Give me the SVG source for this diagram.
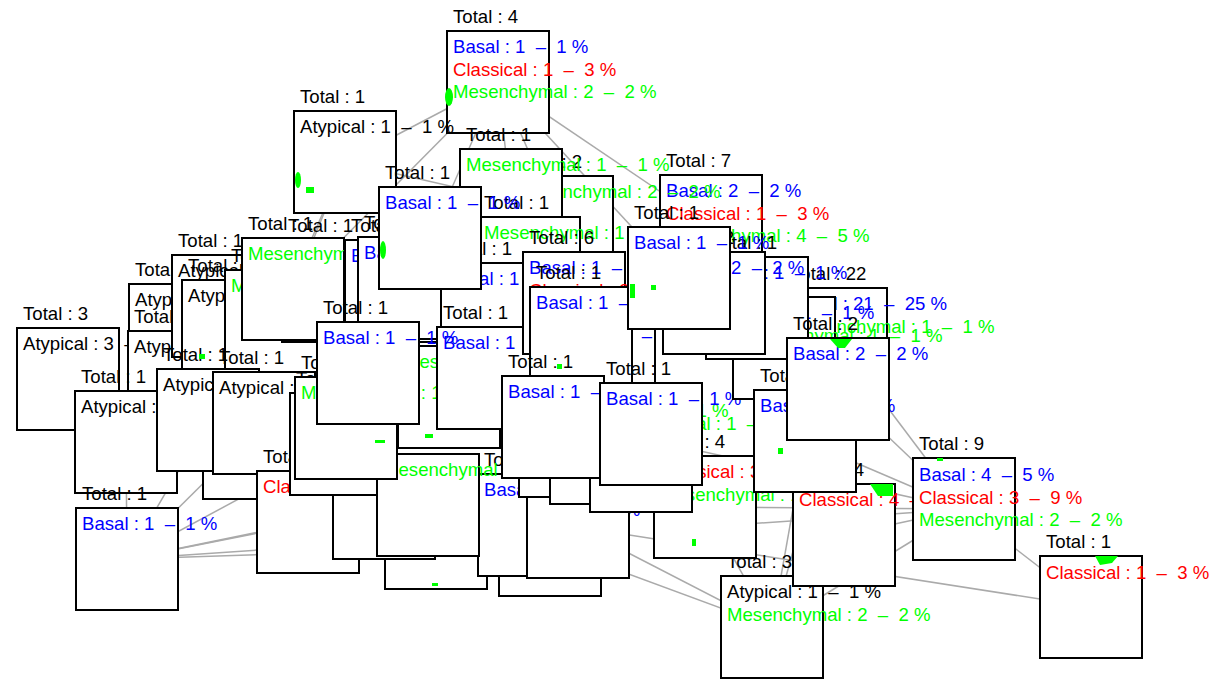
<svg xmlns="http://www.w3.org/2000/svg" width="1219" height="679" viewBox="0 0 1219 679">
<style>
text{font-family:"Liberation Sans",Arial,sans-serif;font-size:18.6px;white-space:pre}
.box{fill:#fff;stroke:#000;stroke-width:2}
.k{fill:#000}.b{fill:#0000FF}.r{fill:#FF0000}.g{fill:#00FF00}
.gs{fill:#00FF00}
#edges line{stroke:#aaaaaa;stroke-width:1.5}
</style>
<rect width="1219" height="679" fill="#fff"/>
<g id="edges">
<line x1="345" y1="162" x2="498" y2="82"/>
<line x1="498" y1="82" x2="511" y2="200"/>
<line x1="498" y1="82" x2="679" y2="278"/>
<line x1="498" y1="82" x2="430" y2="238"/>
<line x1="498" y1="82" x2="293" y2="289"/>
<line x1="498" y1="82" x2="711" y2="226"/>
<line x1="498" y1="82" x2="562" y2="227"/>
<line x1="345" y1="162" x2="511" y2="200"/>
<line x1="345" y1="162" x2="430" y2="238"/>
<line x1="345" y1="162" x2="276" y2="321"/>
<line x1="345" y1="162" x2="293" y2="289"/>
<line x1="964" y1="509" x2="838" y2="389"/>
<line x1="964" y1="509" x2="836" y2="339"/>
<line x1="964" y1="509" x2="844" y2="535"/>
<line x1="964" y1="509" x2="1091" y2="607"/>
<line x1="964" y1="509" x2="705" y2="507"/>
<line x1="964" y1="509" x2="805" y2="441"/>
<line x1="964" y1="509" x2="772" y2="627"/>
<line x1="964" y1="509" x2="650" y2="440"/>
<line x1="964" y1="509" x2="660" y2="530"/>
<line x1="1091" y1="607" x2="578" y2="527"/>
<line x1="772" y1="627" x2="578" y2="527"/>
<line x1="772" y1="627" x2="550" y2="545"/>
<line x1="772" y1="627" x2="705" y2="507"/>
<line x1="772" y1="627" x2="805" y2="441"/>
<line x1="772" y1="627" x2="838" y2="389"/>
<line x1="127" y1="559" x2="308" y2="522"/>
<line x1="127" y1="559" x2="264" y2="423"/>
<line x1="127" y1="559" x2="208" y2="420"/>
<line x1="127" y1="559" x2="126" y2="442"/>
<line x1="127" y1="559" x2="550" y2="545"/>
<line x1="127" y1="559" x2="436" y2="538"/>
<line x1="127" y1="559" x2="384" y2="508"/>
<line x1="127" y1="559" x2="341" y2="444"/>
</g>
<g id="n42" transform="translate(17,328)"><text class="k" x="6" y="-8">Total : 3</text><rect class="box" width="102" height="102"/><text class="k" x="6" y="22">Atypical : 3  –  4 %</text></g>
<g id="n43" transform="translate(129,284)"><text class="k" x="6" y="-8">Total : 1</text><rect class="box" width="102" height="102"/><text class="k" x="6" y="22">Atypical : 1  –  1 %</text></g>
<g id="n44" transform="translate(128,331)"><text class="k" x="6" y="-8">Total : 1</text><rect class="box" width="102" height="102"/><text class="k" x="6" y="22">Atypical : 1  –  1 %</text></g>
<g id="n45" transform="translate(172,255)"><text class="k" x="6" y="-8">Total : 1</text><rect class="box" width="102" height="102"/><text class="k" x="6" y="22">Atypical : 1  –  1 %</text></g>
<g id="n46" transform="translate(182,280)"><text class="k" x="6" y="-8">Total : 1</text><rect class="box" width="102" height="102"/><text class="k" x="6" y="22">Atypical : 1  –  1 %</text></g>
<g id="n47" transform="translate(225,270)"><text class="k" x="6" y="-8">Total : 1</text><rect class="box" width="102" height="102"/><text class="g" x="6" y="22">Mesenchymal : 1  –  1 %</text></g>
<g id="n53" transform="translate(282,240)"><text class="k" x="6" y="-8">Total : 1</text><rect class="box" width="102" height="102"/></g>
<g id="n48" transform="translate(242,238)"><text class="k" x="6" y="-8">Total : 1</text><rect class="box" width="102" height="102"/><text class="g" x="6" y="22">Mesenchymal : 1  –  1 %</text></g>
<g id="n49" transform="translate(75,391)"><text class="k" x="6" y="-8">Total : 1</text><rect class="box" width="102" height="102"/><text class="k" x="6" y="22">Atypical : 1  –  1 %</text></g>
<g id="n02" transform="translate(203,397)"><text class="k" x="6" y="-8">Total : 1</text><rect class="box" width="102" height="102"/><text class="k" x="6" y="22">Atypical : 1  –  1 %</text></g>
<g id="n50" transform="translate(157,369)"><text class="k" x="6" y="-8">Total : 1</text><rect class="box" width="102" height="102"/><text class="k" x="6" y="22">Atypical : 1  –  1 %</text></g>
<g id="n51" transform="translate(213,372)"><text class="k" x="6" y="-8">Total : 1</text><rect class="box" width="102" height="102"/><text class="k" x="6" y="22">Atypical : 1  –  1 %</text></g>
<g id="n01" transform="translate(257,471)"><text class="k" x="6" y="-8">Total : 1</text><rect class="box" width="102" height="102"/><text class="r" x="6" y="22">Classical : 1  –  3 %</text></g>
<g id="n03" transform="translate(499,494)"><text class="k" x="6" y="-8">Total : 1</text><rect class="box" width="102" height="102"/><text class="b" x="6" y="22">Basal : 1  –  1 %</text></g>
<g id="n04" transform="translate(385,487)"><text class="k" x="6" y="-8">Total : 1</text><rect class="box" width="102" height="102"/><text class="g" x="6" y="22">Mesenchymal : 1  –  1 %</text></g>
<g id="n05" transform="translate(333,457)"><text class="k" x="6" y="-8">Total : 1</text><rect class="box" width="102" height="102"/><text class="g" x="6" y="22">Mesenchymal : 1  –  1 %</text></g>
<g id="n06" transform="translate(478,474)"><text class="k" x="6" y="-8">Total : 1</text><rect class="box" width="102" height="102"/><text class="b" x="6" y="22">Basal : 1  –  1 %</text></g>
<g id="n07" transform="translate(527,476)"><text class="k" x="6" y="-8">Total : 1</text><rect class="box" width="102" height="102"/><text class="b" x="6" y="22">Basal : 1  –  1 %</text></g>
<g id="n08" transform="translate(290,393)"><text class="k" x="6" y="-8">Total : 1</text><rect class="box" width="102" height="102"/><text class="g" x="6" y="22">Mesenchymal : 1  –  1 %</text></g>
<g id="n09" transform="translate(377,454)"><text class="k" x="6" y="-8">Total : 1</text><rect class="box" width="102" height="102"/><text class="g" x="6" y="22">Mesenchymal : 1  –  1 %</text></g>
<g id="n54" transform="translate(398,346)"><text class="k" x="6" y="-8">Total : 1</text><rect class="box" width="102" height="102"/><text class="g" x="6" y="22">Mesenchymal : 1  –  1 %</text></g>
<g id="n55" transform="translate(519,395)"><text class="k" x="6" y="-8">Total : 1</text><rect class="box" width="102" height="102"/><text class="g" x="6" y="22">Mesenchymal : 1  –  1 %</text></g>
<g id="n10" transform="translate(550,402)"><text class="k" x="6" y="-8">Total : 1</text><rect class="box" width="102" height="102"/><text class="b" x="6" y="22">Basal : 1  –  1 %</text></g>
<g id="n11" transform="translate(721,576)"><text class="k" x="6" y="-8">Total : 3</text><rect class="box" width="102" height="102"/><text class="k" x="6" y="22">Atypical : 1  –  1 %</text><text class="g" x="6" y="44.5">Mesenchymal : 2  –  2 %</text></g>
<g id="n12" transform="translate(654,456)"><text class="k" x="6" y="-8">Total : 4</text><rect class="box" width="102" height="102"/><text class="r" x="6" y="22">Classical : 3  –  9 %</text><text class="g" x="6" y="44.5">Mesenchymal : 1  –  1 %</text></g>
<g id="n13" transform="translate(590,408)"><text class="k" x="6" y="-8">Total : 1</text><rect class="box" width="102" height="104"/><text class="g" x="6" y="22">Mesenchymal : 1  –  1 %</text></g>
<g id="n20" transform="translate(295,377)"><text class="k" x="6" y="-8">Total : 1</text><rect class="box" width="102" height="102"/><text class="g" x="6" y="22">Mesenchymal : 1  –  1 %</text></g>
<g id="n15" transform="translate(345,240)"><text class="k" x="6" y="-8">Total : 1</text><rect class="box" width="102" height="102"/><text class="b" x="6" y="22">Basal : 1  –  1 %</text></g>
<g id="n31" transform="translate(358,237)"><text class="k" x="6" y="-8">Total : 1</text><rect class="box" width="102" height="102"/><text class="b" x="6" y="22">Basal : 1  –  1 %</text></g>
<g id="n14" transform="translate(553,320)"><text class="k" x="6" y="-8">Total : 1</text><rect class="box" width="102" height="102"/><text class="b" x="6" y="22">Basal : 1  –  1 %</text></g>
<g id="n22" transform="translate(447,31)"><text class="k" x="6" y="-8">Total : 4</text><rect class="box" width="102" height="102"/><text class="b" x="6" y="22">Basal : 1  –  1 %</text><text class="r" x="6" y="44.5">Classical : 1  –  3 %</text><text class="g" x="6" y="67">Mesenchymal : 2  –  2 %</text></g>
<g id="n23" transform="translate(294,111)"><text class="k" x="6" y="-8">Total : 1</text><rect class="box" width="102" height="102"/><text class="k" x="6" y="22">Atypical : 1  –  1 %</text></g>
<g id="n24" transform="translate(660,175)"><text class="k" x="6" y="-8">Total : 7</text><rect class="box" width="102" height="102"/><text class="b" x="6" y="22">Basal : 2  –  2 %</text><text class="r" x="6" y="44.5">Classical : 1  –  3 %</text><text class="g" x="6" y="67">Mesenchymal : 4  –  5 %</text></g>
<g id="n25" transform="translate(511,176)"><text class="k" x="6" y="-8">Total : 2</text><rect class="box" width="102" height="102"/><text class="g" x="6" y="22">Mesenchymal : 2  –  2 %</text></g>
<g id="n26" transform="translate(460,149)"><text class="k" x="6" y="-8">Total : 1</text><rect class="box" width="102" height="102"/><text class="g" x="6" y="22">Mesenchymal : 1  –  1 %</text></g>
<g id="n27" transform="translate(478,217)"><text class="k" x="6" y="-8">Total : 1</text><rect class="box" width="102" height="102"/><text class="g" x="6" y="22">Mesenchymal : 1  –  1 %</text></g>
<g id="n16" transform="translate(441,263)"><text class="k" x="6" y="-8">Total : 1</text><rect class="box" width="102" height="102"/><text class="b" x="6" y="22">Basal : 1  –  1 %</text></g>
<g id="n17" transform="translate(437,327)"><text class="k" x="6" y="-8">Total : 1</text><rect class="box" width="102" height="102"/><text class="b" x="6" y="22">Basal : 1  –  1 %</text></g>
<g id="n28" transform="translate(523,252)"><text class="k" x="6" y="-8">Total : 6</text><rect class="box" width="102" height="102"/><text class="b" x="6" y="22">Basal : 1  –  1 %</text><text class="r" x="6" y="44.5">Classical : 2  –  6 %</text><text class="g" x="6" y="67">Mesenchymal : 3  –  3 %</text></g>
<g id="n29" transform="translate(530,287)"><text class="k" x="6" y="-8">Total : 1</text><rect class="box" width="102" height="102"/><text class="b" x="6" y="22">Basal : 1  –  1 %</text></g>
<g id="n30" transform="translate(379,187)"><text class="k" x="6" y="-8">Total : 1</text><rect class="box" width="102" height="102"/><text class="b" x="6" y="22">Basal : 1  –  1 %</text></g>
<g id="n18" transform="translate(502,376)"><text class="k" x="6" y="-8">Total : 1</text><rect class="box" width="102" height="102"/><text class="b" x="6" y="22">Basal : 1  –  1 %</text></g>
<g id="n19" transform="translate(600,383)"><text class="k" x="6" y="-8">Total : 1</text><rect class="box" width="102" height="102"/><text class="b" x="6" y="22">Basal : 1  –  1 %</text></g>
<g id="n21" transform="translate(317,322)"><text class="k" x="6" y="-8">Total : 1</text><rect class="box" width="102" height="102"/><text class="b" x="6" y="22">Basal : 1  –  1 %</text></g>
<g id="n32" transform="translate(785,288)"><text class="k" x="6" y="-8">Total : 22</text><rect class="box" width="102" height="102"/><text class="b" x="6" y="22">Basal : 21  –  25 %</text><text class="g" x="6" y="44.5">Mesenchymal : 1  –  1 %</text></g>
<g id="n33" transform="translate(733,297)"><text class="k" x="6" y="-8">Total : 2</text><rect class="box" width="102" height="102"/><text class="b" x="6" y="22">Basal : 1  –  1 %</text><text class="g" x="6" y="44.5">Mesenchymal : 1  –  1 %</text></g>
<g id="n34" transform="translate(706,257)"><text class="k" x="6" y="-8">Total : 1</text><rect class="box" width="102" height="102"/><text class="b" x="6" y="22">Basal : 1  –  1 %</text></g>
<g id="n35" transform="translate(663,252)"><text class="k" x="6" y="-8">Total : 2</text><rect class="box" width="102" height="102"/><text class="b" x="6" y="22">Basal : 2  –  2 %</text></g>
<g id="n36" transform="translate(628,227)"><text class="k" x="6" y="-8">Total : 1</text><rect class="box" width="102" height="102"/><text class="b" x="6" y="22">Basal : 1  –  1 %</text></g>
<g id="n37" transform="translate(793,484)"><text class="k" x="6" y="-8">Total : 4</text><rect class="box" width="102" height="102"/><text class="r" x="6" y="22">Classical : 4  –  12 %</text></g>
<g id="n38" transform="translate(754,390)"><text class="k" x="6" y="-8">Total : 1</text><rect class="box" width="102" height="102"/><text class="b" x="6" y="22">Basal : 1  –  1 %</text></g>
<g id="n39" transform="translate(787,338)"><text class="k" x="6" y="-8">Total : 2</text><rect class="box" width="102" height="102"/><text class="b" x="6" y="22">Basal : 2  –  2 %</text></g>
<g id="n40" transform="translate(913,458)"><text class="k" x="6" y="-8">Total : 9</text><rect class="box" width="102" height="102"/><text class="b" x="6" y="23">Basal : 4  –  5 %</text><text class="r" x="6" y="45.5">Classical : 3  –  9 %</text><text class="g" x="6" y="68">Mesenchymal : 2  –  2 %</text></g>
<g id="n41" transform="translate(1040,556)"><text class="k" x="6" y="-8">Total : 1</text><rect class="box" width="102" height="102"/><text class="r" x="6" y="23">Classical : 1  –  3 %</text></g>
<g id="n52" transform="translate(76,508)"><text class="k" x="6" y="-8">Total : 1</text><rect class="box" width="102" height="102"/><text class="b" x="6" y="22">Basal : 1  –  1 %</text></g>
<g id="marks">
<ellipse class="gs" cx="449" cy="97" rx="4" ry="9"/>
<ellipse class="gs" cx="298" cy="180" rx="3" ry="8"/>
<rect class="gs" x="306" y="187" width="8" height="6"/>
<ellipse class="gs" cx="383" cy="250" rx="3" ry="9"/>
<rect class="gs" x="630" y="284" width="5" height="14"/>
<rect class="gs" x="651" y="285" width="5" height="5"/>
<path class="gs" d="M830 339 L852 339 L845 348 L838 348 Z"/>
<path class="gs" d="M870 484 L893 484 L893 496 L878 496 Z"/>
<path class="gs" d="M1095 556 L1118 556 L1112 563 L1100 565 Z"/>
<rect class="gs" x="937" y="458" width="6" height="3"/>
<rect class="gs" x="778" y="448" width="5" height="6"/>
<rect class="gs" x="199" y="354" width="6" height="5"/>
<rect class="gs" x="425" y="434" width="8" height="4"/>
<rect class="gs" x="375" y="440" width="10" height="3"/>
<rect class="gs" x="692" y="539" width="4" height="7"/>
<rect class="gs" x="557" y="364" width="5" height="5"/>
<rect class="gs" x="432" y="583" width="6" height="3"/>
</g>
</svg>
